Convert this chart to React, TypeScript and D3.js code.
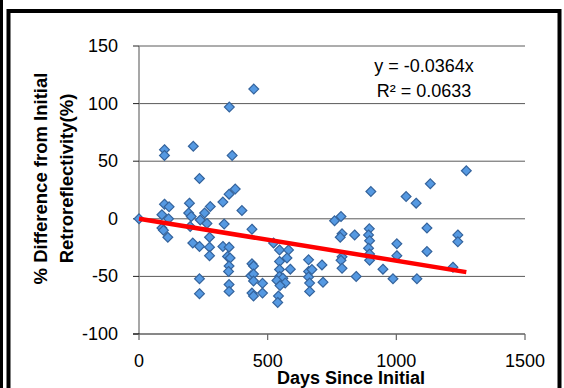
import React from 'react';
import * as d3 from 'd3';

const days = [
  0, 99, 99, 99, 117, 89, 115, 89, 95, 112,
  211, 235, 196, 193, 203, 199, 209, 235, 238, 255, 277, 264, 274, 274, 274, 235, 235,
  326, 331, 326, 350, 374, 351, 362, 350, 344, 354, 350, 348, 350, 350,
  400, 446, 439, 439, 445, 435, 445, 445, 439, 445, 480, 480,
  523, 546, 581, 546, 575, 546, 588, 546, 559, 536, 568, 548, 542, 539,
  659, 659, 659, 663, 663, 672, 711, 715,
  760, 785, 789, 782, 838, 789, 785, 789, 844,
  901, 895, 892, 896, 892, 896, 896, 948, 987, 1002, 1002,
  1038, 1077, 1080, 1132, 1119, 1119, 1220, 1239, 1239, 1272,
];
const diffs = [
  0, 60, 55, 12.7, 10.4, 3.5, 0, -8, -10, -16,
  63, 35, 13.6, 5, 2, -6.7, -21, -24, -1, 5, 10.7, -4, -16, -24.6, -32, -52, -65,
  14.5, -4.6, -24, 21.4, 25.8, 97, 55, -24.6, -32.7, -34, -41, -45.7, -57, -63,
  7.2, 112.6, -9, -39, -41, -49.5, -48, -54, -64.5, -67, -56, -64.5,
  -21, -27, -27, -37, -34, -44, -43.7, -50, -51.5, -53.6, -55.8, -58, -67, -72.6,
  -35.6, -45.7, -50.6, -55.8, -63, -44, -40, -55,
  -1.7, 2, -13, -16, -14, -33, -36, -43, -50,
  23.7, -8.7, -14, -19, -25.5, -30.6, -36, -43.7, -52, -21.7, -32,
  19.4, 13.6, -52, 30.4, -8, -28.4, -42, -14, -20, 41.7,
];
const xTicks = [0, 500, 1000, 1500];
const yTicks = [-100, -50, 0, 50, 100, 150];
const gridValues = [-50, 0, 50, 100, 150];
const slope = -0.0364;
const trendStart = 0;
const trendEnd = 1272;
const equationLines = ['y = -0.0364x', 'R² = 0.0633'];
const yTitleLines = ['% Difference from Initial', 'Retroreflectivity(%)'];
const xTitle = 'Days Since Initial';

const FONT = "'Liberation Sans', Arial, sans-serif";

export default function App() {
  const x = d3.scaleLinear().domain([0, 1500]).range([139, 525]);
  const y = d3.scaleLinear().domain([-100, 150]).range([334, 46]);
  const diamond = 'M0,-4.9L4.9,0L0,4.9L-4.9,0Z';
  const line = d3
    .line<number>()
    .x((d) => x(d))
    .y((d) => y(slope * d));
  const points = days.map((d, i) => [d, diffs[i]] as [number, number]);

  return (
    <svg
      width={564}
      height={388}
      style={{ position: 'absolute', left: 0, top: 0, background: '#fff' }}
      fontFamily={FONT}
    >
      {/* frame */}
      <line x1={1.5} y1={0} x2={1.5} y2={388} stroke="#000" strokeWidth={3} />
      <path d="M8.5,388V11H559.5V388" fill="none" stroke="#000" strokeWidth={4} />

      {/* gridlines */}
      {gridValues.map((v) => (
        <line key={'g' + v} x1={x(0)} x2={x(1500)} y1={y(v)} y2={y(v)} stroke="#5a5a5a" strokeWidth={1} />
      ))}
      {/* y axis */}
      <line x1={x(0)} x2={x(0)} y1={y(150)} y2={y(-100)} stroke="#8a8a8a" strokeWidth={1.5} />
      {yTicks.map((v) => (
        <line key={'yt' + v} x1={x(0) - 6} x2={x(0)} y1={y(v)} y2={y(v)} stroke="#222" strokeWidth={1} />
      ))}
      {/* x axis */}
      <line x1={x(0) - 6} x2={x(1500)} y1={y(-100)} y2={y(-100)} stroke="#111" strokeWidth={1} />
      {xTicks.map((v) => (
        <line key={'xt' + v} x1={x(v)} x2={x(v)} y1={y(-100)} y2={y(-100) + 6} stroke="#666" strokeWidth={1.2} />
      ))}

      {/* tick labels */}
      {yTicks.map((v) => (
        <text key={'yl' + v} x={118} y={y(v)} textAnchor="end" dominantBaseline="central" fontSize={18} fill="#000">
          {v}
        </text>
      ))}
      {xTicks.map((v) => (
        <text key={'xl' + v} x={x(v)} y={361} textAnchor="middle" dominantBaseline="central" fontSize={18} fill="#000">
          {v}
        </text>
      ))}

      {/* points */}
      {points.map(([d, v], i) => (
        <path
          key={'p' + i}
          d={diamond}
          transform={`translate(${x(d)},${y(v)})`}
          fill="#5599E2"
          stroke="#34639C"
          strokeWidth={1.2}
        />
      ))}

      {/* trendline */}
      <path d={line([trendStart, trendEnd]) || ''} fill="none" stroke="#FF0000" strokeWidth={4.5} />

      {/* equation */}
      {equationLines.map((t, i) => (
        <text key={'eq' + i} x={424} y={66 + i * 25} textAnchor="middle" dominantBaseline="central" fontSize={18} fill="#000">
          {t}
        </text>
      ))}

      {/* axis titles */}
      {yTitleLines.map((t, i) => (
        <text
          key={'yt' + i}
          transform={`translate(${40.5 + i * 26},178.5) rotate(-90)`}
          textAnchor="middle"
          dominantBaseline="central"
          fontSize={18.5}
          fontWeight="bold"
          fill="#000"
        >
          {t}
        </text>
      ))}
      <text x={351} y={377.5} textAnchor="middle" dominantBaseline="central" fontSize={18} fontWeight="bold" fill="#000">
        {xTitle}
      </text>
    </svg>
  );
}
